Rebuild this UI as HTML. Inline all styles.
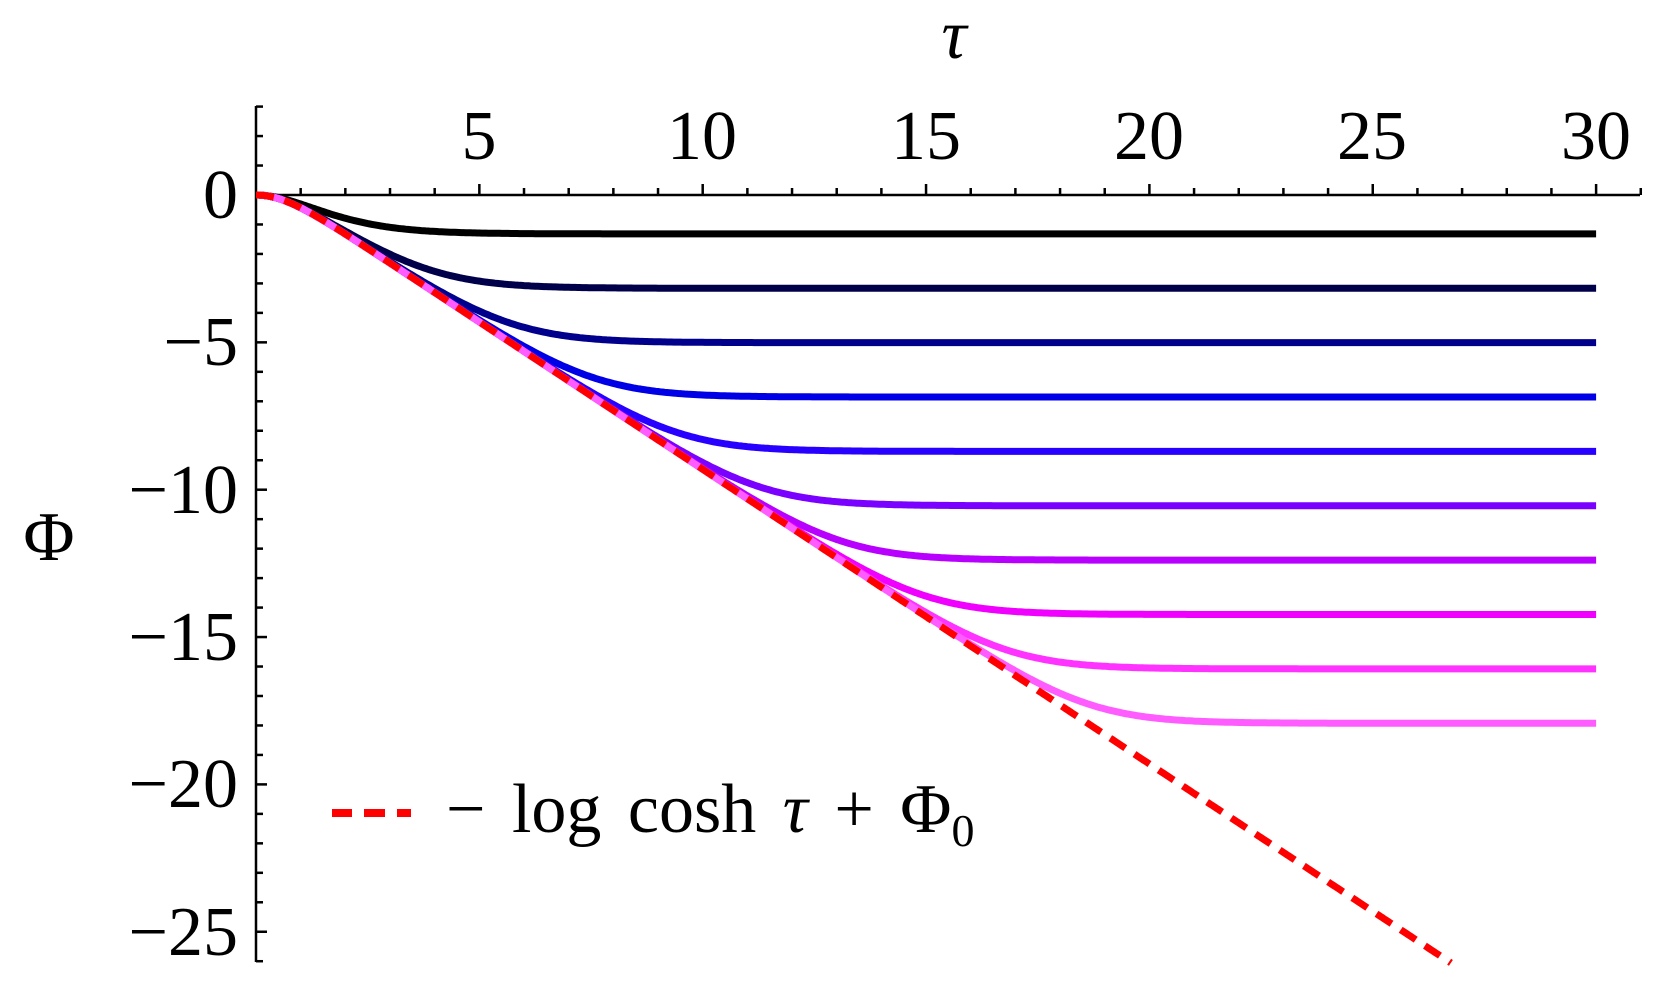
<!DOCTYPE html>
<html><head><meta charset="utf-8"><style>
html,body{margin:0;padding:0;background:#fff;}
svg{display:block;}
text{font-family:"Liberation Serif",serif;fill:#000;}
</style></head><body>
<svg id="s" width="1662" height="995" viewBox="0 0 1662 995" xmlns="http://www.w3.org/2000/svg">
<g id="axes" stroke="#000" stroke-width="2.5"></g>
<g id="curves" fill="none" stroke-width="7" stroke-linecap="butt"></g>
<g font-size="70">
<text x="479" y="159" text-anchor="middle">5</text>
<text x="702" y="159" text-anchor="middle">10</text>
<text x="926" y="159" text-anchor="middle">15</text>
<text x="1149" y="159" text-anchor="middle">20</text>
<text x="1372" y="159" text-anchor="middle">25</text>
<text x="1596" y="159" text-anchor="middle">30</text>
<text x="238" y="218" text-anchor="end">0</text>
<text x="238" y="365" text-anchor="end">−5</text>
<text x="238" y="513" text-anchor="end">−10</text>
<text x="238" y="660" text-anchor="end">−15</text>
<text x="238" y="807" text-anchor="end">−20</text>
<text x="238" y="955" text-anchor="end">−25</text>
<text x="49" y="560" text-anchor="middle">Φ</text>
<text x="954" y="58" text-anchor="middle" font-style="italic">τ</text>
<text x="446" y="832" word-spacing="9">− log cosh <tspan font-style="italic">τ</tspan> + Φ<tspan font-size="46" dy="14">0</tspan></text>
</g>
<g stroke="#ff0000" stroke-width="8">
<line x1="332" y1="813" x2="352" y2="813"/>
<line x1="364" y1="813" x2="385" y2="813"/>
<line x1="397" y1="813" x2="411" y2="813"/>
</g>
</svg>
<script>
var X0=256,SX=44.67,Y0=195,SY=29.47;
function px(t){return X0+t*SX;} function py(v){return Y0-v*SY;}
var ax=document.getElementById('axes'),cv=document.getElementById('curves');
var h='';
h+='<line x1="256" y1="195" x2="1640" y2="195"/><line x1="256" y1="106" x2="256" y2="962"/>';
for(var t=1;t<=31;t++){var L=(t%5==0)?11:7;var x=px(t);h+='<line x1="'+x+'" y1="195" x2="'+x+'" y2="'+(195-L)+'"/>';}
for(var v=3;v>=-26;v--){if(v==0)continue;var L=(v%5==0)?11:7;var y=py(v);h+='<line x1="256" y1="'+y+'" x2="'+(256+L)+'" y2="'+y+'"/>';}
ax.innerHTML=h;
function lc(t){return Math.log(Math.cosh(t));}
var cols=['#000000','#00004a','#00008c','#0000e6','#2800ff','#7a00ff','#b800ff','#f000ff','#ff33ff','#ff5cff'];
var s='',kk=0.95;
function plat(Lv){return Lv+kk*Math.log(1+Math.exp(-Lv/kk));}
for(var k=0;k<10;k++){var P=1.32+1.845*k;var Lv=P;for(var it=0;it<60;it++){Lv+=P-plat(Lv);}
var off=kk*Math.log(1+Math.exp(-Lv/kk));var d='';
for(var i=0;i<=600;i++){var t=i*30/600;var f=lc(t);
var m=-kk*Math.log(Math.exp(-f/kk)+Math.exp(-Lv/kk));var val=-(m+off);
d+=(i?'L':'M')+px(t).toFixed(1)+','+py(val).toFixed(1);}
s+='<path d="'+d+'" stroke="'+cols[k]+'"/>';}
var d='';for(var i=0;i<=540;i++){var t=i*26.75/540;d+=(i?'L':'M')+px(t).toFixed(1)+','+py(-lc(t)).toFixed(1);}
s+='<path d="'+d+'" stroke="#ff0000" stroke-width="7" stroke-dasharray="18,11"/>';
cv.innerHTML=s;
</script>
</body></html>
